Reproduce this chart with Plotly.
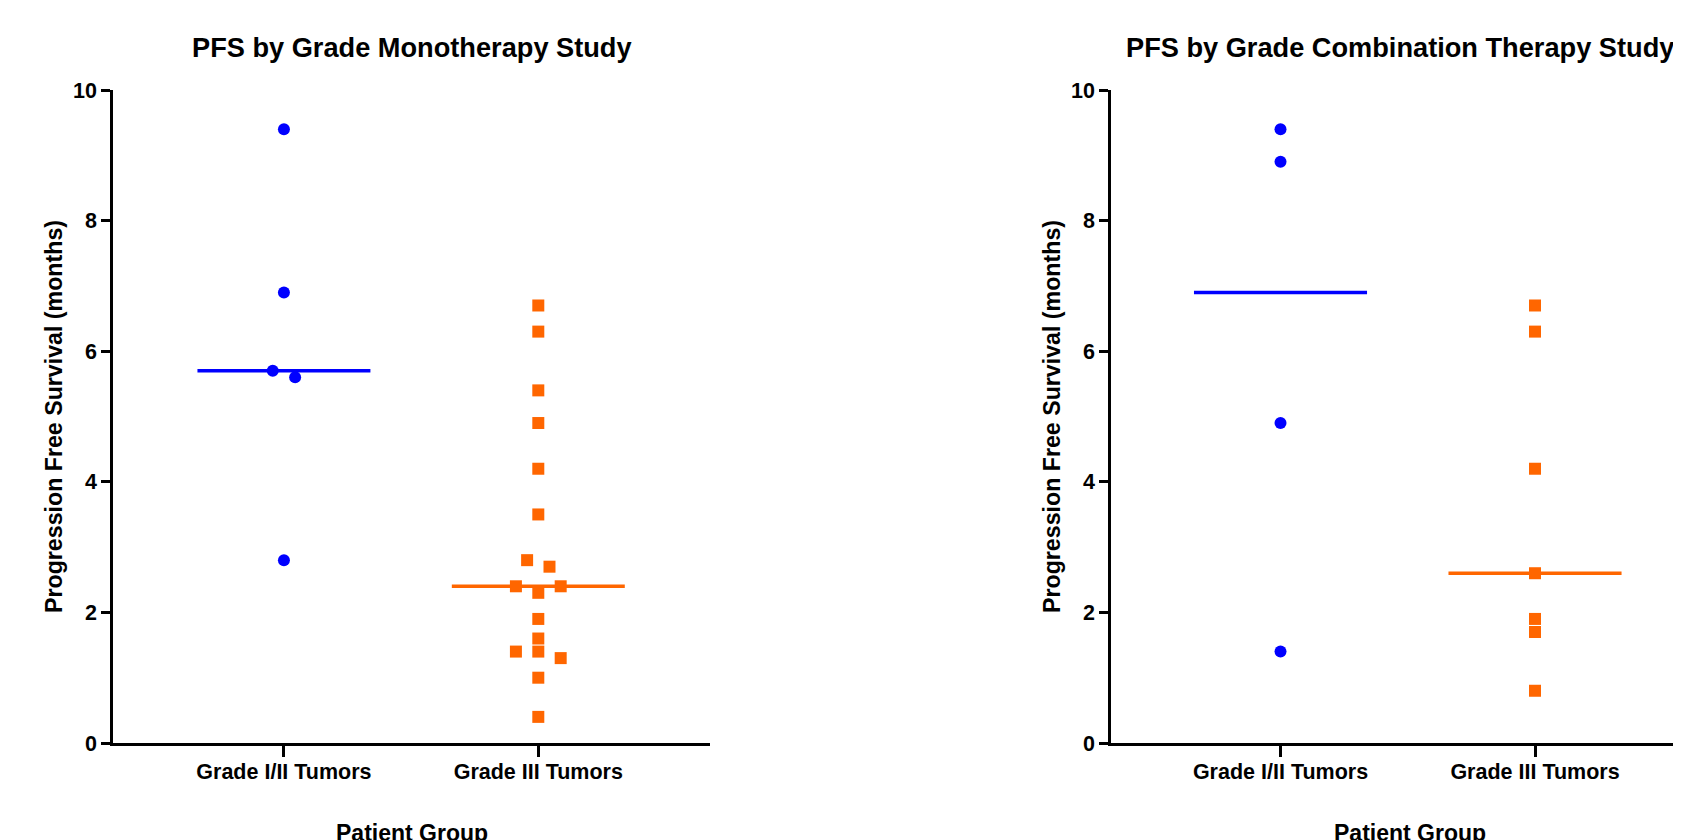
import numpy as np
import plotly.graph_objects as go

# ---- data ----
categories = ["Grade I/II Tumors", "Grade III Tumors"]

mono_g12 = [9.4, 6.9, 5.7, 5.6, 2.8]
mono_g12_dodge = [0.0, 0.0, -0.044, 0.044, 0.0]
mono_g3 = [6.7, 6.3, 5.4, 4.9, 4.2, 3.5, 2.8, 2.7, 2.4, 2.4, 2.3, 1.9, 1.6, 1.4, 1.4, 1.3, 1.0, 0.4]
mono_g3_dodge = [0, 0, 0, 0, 0, 0, -0.044, 0.044, -0.088, 0.088, 0, 0, 0, -0.088, 0, 0.088, 0, 0]

combo_g12 = [9.4, 8.9, 4.9, 1.4]
combo_g12_dodge = [0, 0, 0, 0]
combo_g3 = [6.7, 6.3, 4.2, 2.6, 1.9, 1.7, 0.8]
combo_g3_dodge = [0, 0, 0, 0, 0, 0, 0]

titles = ["PFS by Grade Monotherapy Study", "PFS by Grade Combination Therapy Study"]
y_title = "Progression Free Survival (months)"
x_title = "Patient Group"
y_ticks = [0, 2, 4, 6, 8, 10]

BLUE = "#0000FF"
ORANGE = "#FF6600"
FONT = "Liberation Sans, Arial, sans-serif"

W, H = 1681, 840
OFF = 8  # page body margin
# pixel layout (page coords minus body offset)
left_dom = [(113 - OFF) / W, (710 - OFF) / W]
right_dom = [(1111 - OFF) / W, 1.0]
right_full = [(1101 - OFF) / W, (1698 - OFF) / W]
y_dom = [(H - (743 - OFF)) / H, (H - (90 - OFF)) / H]
x_range_left = [-0.672, 1.675]
x_range_right = [-0.666, 1.605]

fig = go.Figure()

panels = [
    ("x", "y", [(mono_g12, mono_g12_dodge, BLUE, "circle"), (mono_g3, mono_g3_dodge, ORANGE, "square")]),
    ("x2", "y2", [(combo_g12, combo_g12_dodge, BLUE, "circle"), (combo_g3, combo_g3_dodge, ORANGE, "square")]),
]

for xa, ya, groups in panels:
    for i, (vals, dodge, col, sym) in enumerate(groups):
        xs = [i + d for d in dodge]
        fig.add_trace(go.Scatter(
            x=xs, y=vals, mode="markers", xaxis=xa, yaxis=ya,
            marker=dict(color=col, symbol=sym, size=12, line=dict(width=0)),
            showlegend=False, cliponaxis=False,
        ))
        med = float(np.median(vals))
        fig.add_trace(go.Scatter(
            x=[i - 0.34, i + 0.34], y=[med, med], mode="lines", xaxis=xa, yaxis=ya,
            line=dict(color=col, width=3.5), showlegend=False,
        ))

axis_common = dict(
    showline=True, linecolor="black", linewidth=2.5, ticks="outside",
    tickwidth=2.5, tickcolor="black", showgrid=False, zeroline=False, automargin=False,
    tickfont=dict(family=FONT, size=21.5, color="black", weight="bold"),
)

fig.update_layout(
    template="none",
    width=W, height=H, margin=dict(l=0, r=0, t=0, b=0, pad=0, autoexpand=False),
    paper_bgcolor="white", plot_bgcolor="white",
    xaxis=dict(domain=left_dom, range=x_range_left, tickvals=[0, 1], ticktext=categories,
               ticklen=11, ticklabelstandoff=-4, anchor="y", **axis_common),
    yaxis=dict(domain=y_dom, range=[0, 10], tickvals=y_ticks, ticklen=9, anchor="x", **axis_common),
    xaxis2=dict(domain=right_dom, range=x_range_right, tickvals=[0, 1], ticktext=categories,
                ticklen=11, ticklabelstandoff=-4, anchor="y2", **axis_common),
    yaxis2=dict(domain=y_dom, range=[0, 10], tickvals=y_ticks, ticklen=9, anchor="x2", **axis_common),
)

ann = []
for dom, xdom, t in zip([left_dom, right_full], [left_dom, [(1111 - OFF) / W, (1708 - OFF) / W]], titles):
    cx = (dom[0] + dom[1]) / 2
    cxa = (xdom[0] + xdom[1]) / 2
    ax0 = xdom[0]
    ann.append(dict(text=t, x=cx, y=1 - (47 - OFF) / H, xref="paper", yref="paper",
                    xanchor="center", yanchor="middle", showarrow=False,
                    font=dict(family=FONT, size=27.2, color="black", weight="bold")))
    ann.append(dict(text=x_title, x=cxa, y=1 - (833 - OFF) / H, xref="paper", yref="paper",
                    xanchor="center", yanchor="middle", showarrow=False,
                    font=dict(family=FONT, size=23, color="black", weight="bold")))
    ann.append(dict(text=y_title, x=ax0 - 59.5 / W, y=(y_dom[0] + y_dom[1]) / 2, xref="paper", yref="paper",
                    xanchor="center", yanchor="middle", showarrow=False, textangle=-90,
                    font=dict(family=FONT, size=23.2, color="black", weight="bold")))
fig.update_layout(annotations=ann)

fig.write_html("out.html")
